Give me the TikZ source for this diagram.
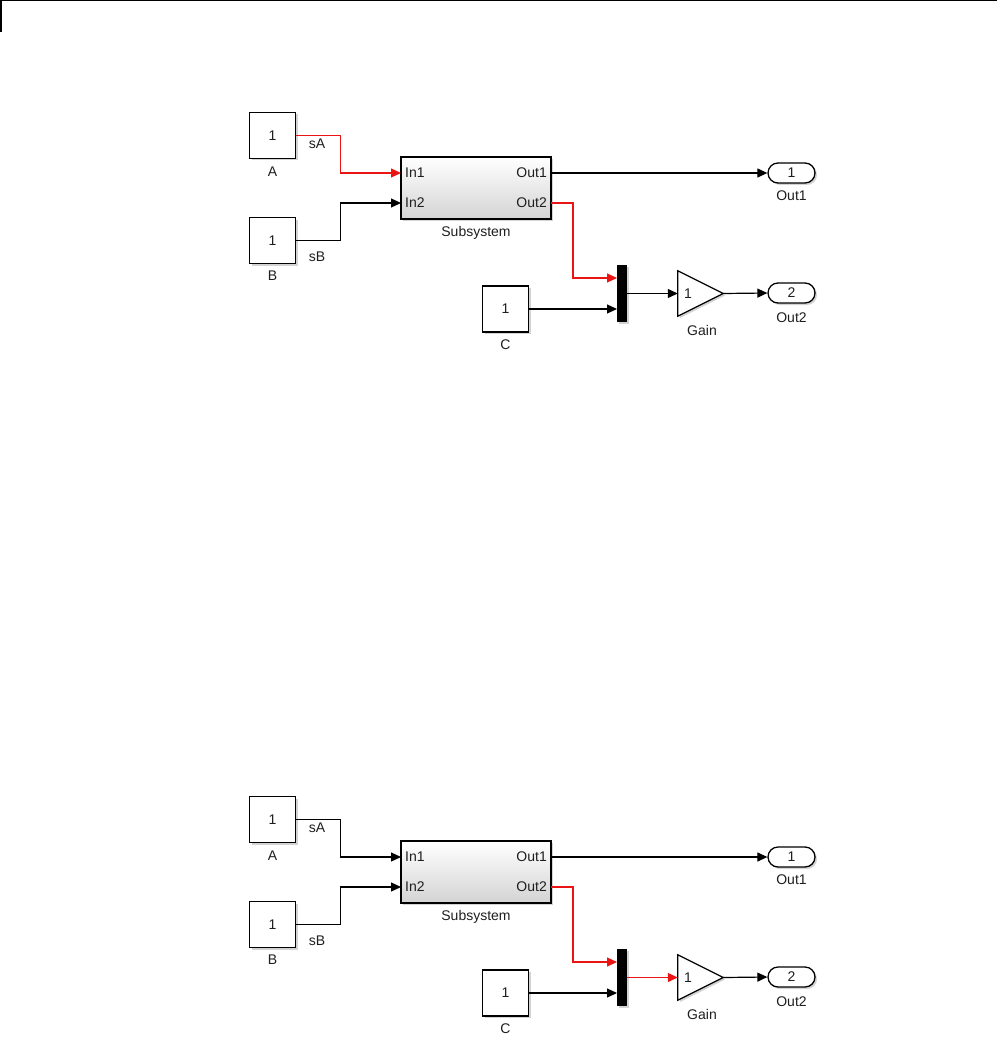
\documentclass[tikz,border=0pt]{standalone}
\usepackage{fontspec}
\setmainfont{Liberation Sans}
\usetikzlibrary{arrows.meta,shadows,calc}
\definecolor{sigred}{RGB}{235,20,20}
\definecolor{txt}{RGB}{30,30,30}
\newcommand{\sfs}{\fontsize{14}{16}\selectfont}
\tikzset{
  x=1pt, y=-1pt,
  shd/.style={drop shadow={shadow xshift=2pt,shadow yshift=-2pt,opacity=0.35}},
  blk/.style={draw=black, line width=1.4pt, fill=white, minimum width=46pt, minimum height=46pt, inner sep=0, shd, font=\sfs, text=txt},
  lbl/.style={inner sep=0, font=\sfs, text=txt},
  subsys/.style={draw=black, line width=1.4pt, minimum width=150pt, minimum height=62pt, inner sep=0, top color=white, bottom color=black!17, shd},
  term/.style={draw=black, line width=1.3pt, fill=white, rounded corners=10pt, minimum width=47pt, minimum height=20pt, inner sep=0, shd, font=\sfs, text=txt},
  mux/.style={fill=black, minimum width=10pt, minimum height=57pt, inner sep=0, shd},
  gainbox/.style={inner sep=0, minimum width=45pt, minimum height=45pt},
  sig/.style={line width=1.2pt, -{Triangle[length=10pt,width=9pt]}},
}
\newcommand{\simdiag}[5]{%
 \begin{scope}[yshift=#2]
  \node[blk] (#1A) at (272.5,135.5) {1};
  \node[lbl] (#1Alab) at (272.5,172) {A};
  \node[blk] (#1B) at (272.5,240.5) {1};
  \node[lbl] (#1Blab) at (272.5,276) {B};
  \node[blk] (#1C) at (505.5,309) {1};
  \node[lbl] (#1Clab) at (505.5,345) {C};
  \node[subsys] (#1S) at (476,188) {};
  \node[lbl] (#1Slab) at (476,233) {Subsystem};
  \coordinate (#1in1) at (401,173);
  \coordinate (#1in2) at (401,203);
  \coordinate (#1out1) at (551,173);
  \coordinate (#1out2) at (551,203);
  \node[lbl, anchor=west] (#1In1t) at ([xshift=4pt]#1in1) {In1};
  \node[lbl, anchor=west] (#1In2t) at ([xshift=4pt]#1in2) {In2};
  \node[lbl, anchor=east] (#1Out1t) at ([xshift=-4pt]#1out1) {Out1};
  \node[lbl, anchor=east] (#1Out2t) at ([xshift=-4pt]#1out2) {Out2};
  \node[term] (#1O1) at (791.5,173) {1};
  \node[lbl] (#1O1lab) at (791.5,196) {Out1};
  \node[term] (#1O2) at (791.5,293) {2};
  \node[lbl] (#1O2lab) at (791.5,318) {Out2};
  \node[mux] (#1M) at (622,293.5) {};
  \coordinate (#1m1) at (617,278);
  \coordinate (#1m2) at (617,309);
  \node[gainbox] (#1G) at (700.5,293.5) {};
  \draw[line width=1.2pt, fill=white, shd] (#1G.north west) -- (#1G.east) -- (#1G.south west) -- cycle;
  \node[lbl, anchor=west] (#1Gt) at ([xshift=6pt]#1G.west) {1};
  \node[lbl] (#1Glab) at (702,330) {Gain};
  \node[lbl] (#1sA) at (317,144) {sA};
  \node[lbl] (#1sB) at (317,257) {sB};
  \draw[sig, color=#3] (#1A.east) -- ++(44,0) |- (#1in1);
  \draw[sig] (#1B.east) -- ++(44,0) |- (#1in2);
  \draw[sig] (#1out1) -- (#1O1.west);
  \draw[sig, color=#4] (#1out2) -- ++(22,0) |- (#1m1);
  \draw[sig] (#1C.east) -- (#1m2);
  \draw[sig, color=#5] (#1M.east) -- (#1G.west);
  \draw[sig] (#1G.east) -- (#1O2.west);
 \end{scope}}
\begin{document}
\begin{tikzpicture}
  \useasboundingbox (0,0) rectangle (997,1051);
  \draw[line width=1.5pt] (0,0.75) -- (997,0.75);
  \draw[line width=2pt] (1,0) -- (1,32);
  \simdiag{t}{0pt}{sigred}{sigred}{black}
  \simdiag{b}{-684pt}{black}{sigred}{sigred}
\end{tikzpicture}
\end{document}
